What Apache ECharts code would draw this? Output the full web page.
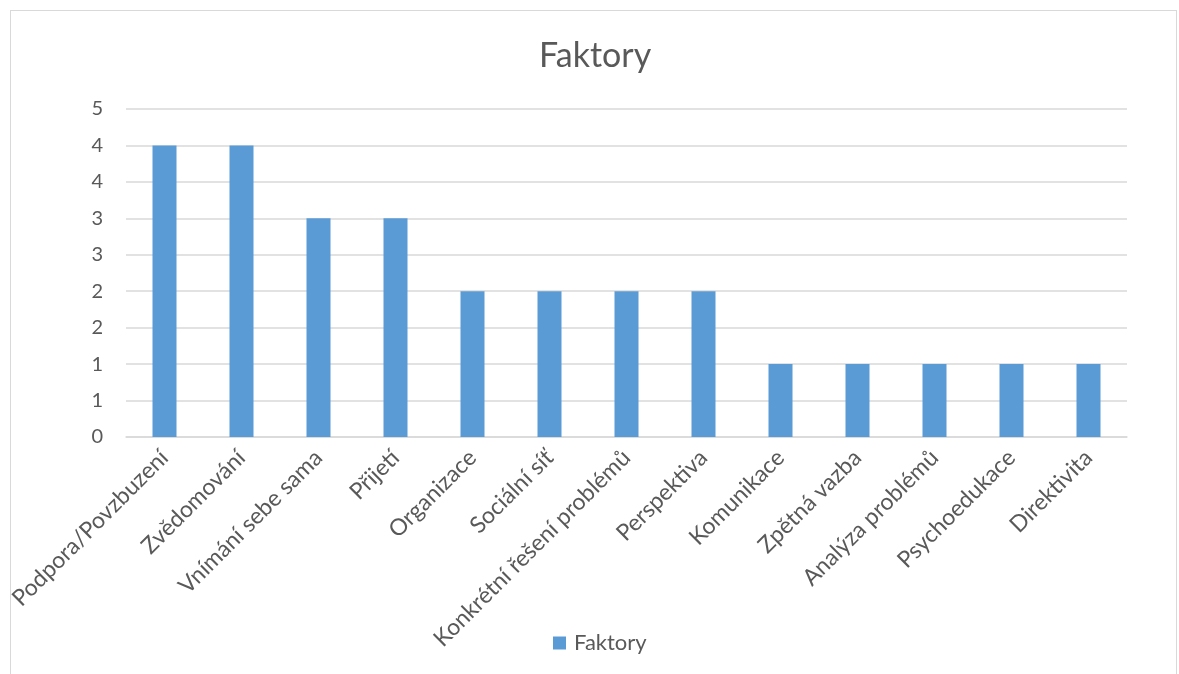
<!DOCTYPE html>
<html>
<head>
<meta charset="utf-8">
<script src="https://cdn.jsdelivr.net/npm/echarts@6/dist/echarts.min.js"></script>
<style>
html,body{margin:0;padding:0;background:#fff;}
#frame{position:absolute;left:10px;top:10px;width:1167px;height:700px;border:1px solid #d9d9d9;box-sizing:border-box;}
#c{position:absolute;left:0;top:0;width:1179px;height:674px;}
</style>
</head>
<body>
<div id="frame"></div>
<div id="c"></div>
<script>
const categories = ["Podpora/Povzbuzení","Zvědomování","Vnímání sebe sama","Přijetí","Organizace","Sociální síť","Konkrétní řešení problémů","Perspektiva","Komunikace","Zpětná vazba","Analýza problémů","Psychoedukace","Direktivita"];
const values = [4,4,3,3,2,2,2,2,1,1,1,1,1];
const seriesName = "Faktory";
const titleText = "Faktory";

const font = "Lato, 'Open Sans', sans-serif";
const chart = echarts.init(document.getElementById('c'));
chart.setOption({
  animation:false,
  title:{text:titleText,left:534,top:34,textStyle:{fontFamily:font,fontSize:34,fontWeight:'normal',color:'#595959'}},
  grid:{left:126,right:52,top:109,bottom:237},
  legend:{bottom:15,left:548,icon:'rect',itemWidth:13,itemHeight:13,itemGap:6,
    textStyle:{fontFamily:font,fontSize:22,color:'#595959',padding:[0,0,0,3]},data:[seriesName]},
  xAxis:{type:'category',data:categories,
    axisLine:{lineStyle:{color:'#d9d9d9',width:1.5}},axisTick:{show:false},
    axisLabel:{interval:0,rotate:45,fontFamily:font,fontSize:23,color:'#595959',margin:17}},
  yAxis:{type:'value',min:0,max:4.5,interval:0.5,
    axisLine:{show:false},axisTick:{show:false},
    splitLine:{lineStyle:{color:'#d9d9d9',width:1.5}},
    axisLabel:{fontFamily:font,fontSize:20,color:'#595959',margin:23,formatter:v=>String(Math.round(v))}},
  series:[{name:seriesName,type:'bar',data:values,barWidth:24,itemStyle:{color:'#5b9bd5'}}]
});
</script>
</body>
</html>
